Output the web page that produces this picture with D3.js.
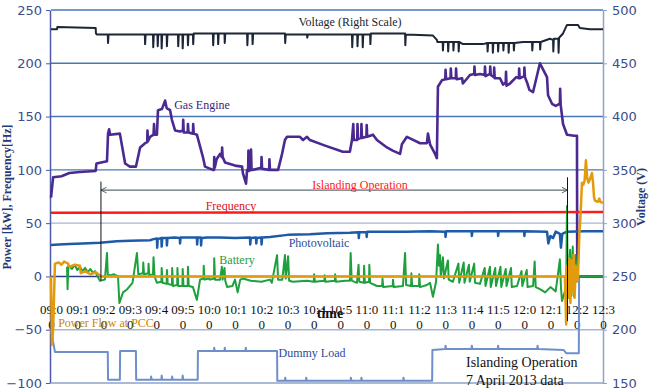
<!DOCTYPE html>
<html>
<head>
<meta charset="utf-8">
<script src="https://cdn.jsdelivr.net/npm/d3@7"></script>
<style>
  body { margin: 0; background: #fff; }
  svg { display: block; }
</style>
</head>
<body>
<script>
  // minutes after 09:00 -> value
  const timeTicks = [0,10,20,30,40,50,60,70,80,90,100,110,120,130,140,150,160,170,180,190,200,210];
  const timeLabels = ["09:00","09:10","09:20","09:30","09:40","09:50","10:00","10:10","10:20","10:30","10:40",
    "10:50","11:00","11:10","11:20","11:30","11:40","11:50","12:00","12:10","12:20","12:30"];
  const leftTicks = [-100,-50,0,50,100,150,200,250];
  const rightTicks = [150,200,250,300,350,400,450,500];
  const gridValues = [250,200,150,100,50,0,-50];

  const voltage = [[0,482],[2.3,482],[2.4,484],[17,483],[17.1,478],[17.5,477],[21.6,477],[21.7,469],[21.9,477],[35.7,477],[35.8,468],[36,477],
    [38.8,477],[38.9,465],[39.1,477],[40.5,477],[40.6,466],[40.8,477],[42,477],[42.1,464],[42.3,477],[44,477],[44.1,466],[44.3,477],
    [48.3,477],[48.4,466],[48.6,477],[50,477],[50.1,464],[50.3,477],[52,477],[52.1,467],[52.3,477],[54,477],[54.1,468],[54.3,478],
    [61.6,478],[61.7,467],[61.9,478],[63.5,478],[63.6,468],[63.8,478],[66,478],[66.1,469],[66.3,478],[74.6,478],[74.7,467],[74.9,478],
    [76.6,478],[76.7,468],[76.9,478],[89,478],[89.1,469],[89.3,477],[97.4,477],[97.5,474],[97.7,477],[114.5,477],[114.6,465],[114.8,477],
    [116.5,477],[116.6,466],[116.8,477],[118.5,477],[118.6,465],[118.8,477],[121.4,477],[121.5,468],[121.7,478],[134.7,478],[134.8,467],
    [135,477],[145.3,476],[146.8,472],[147,470],[149,470],[149.1,462],[149.3,470],[151,470],[151.1,461],[151.3,470],[153,470],[153.1,462],
    [153.3,470],[155,470],[155.1,461],[155.3,470],[156.7,468],[164.3,468],[166,469],[166.1,461],[166.3,469],[168,469],[168.1,460],[168.3,469],
    [170,469],[170.1,461],[170.3,469],[172,469],[172.1,462],[172.3,469],[174,469],[174.1,460],[174.3,469],[176,469],[176.1,462],[176.3,469],
    [179.6,470],[183,470],[183.1,462],[183.3,470],[186,470],[186.1,463],[186.3,470],[189.8,473],[191,472],[191.1,461],[191.3,473],
    [193,473],[193.1,460],[193.3,474],[194.8,478],[196.3,486],[200.5,486],[201.2,483],[205,482],[210,482]];

  const gasEngine = [[0,74],[0.8,93],[4,94],[7,97],[11,98],[17,99],[17.3,106],[21.3,108],[21.7,134],[22.1,138],[22.5,133],[26.2,134],
    [28.2,106],[30,103],[32.3,103],[33.9,121],[35.8,125],[36.6,126],[36.7,137],[36.9,127],[37.7,131],[39,133],[39.2,143],[39.4,133],
    [40.3,133],[40.7,156],[42.2,157],[43.4,165],[44,158],[45.3,156],[46,147],[47.2,137],[49.1,136],[50.2,137],[50.3,147],[50.5,135],
    [52,135],[52.1,143],[52.3,135],[54,134],[54.1,143],[54.3,134],[55.5,133],[57.8,112],[58.6,103],[61.6,100],[62,100],[62.1,112],
    [62.3,102],[63,110],[64.3,115],[65,112],[65.1,121],[65.3,112],[66.2,107],[70,104],[72.7,103],[73,97],[74.2,87],[74.6,100],[75,100],
    [75.1,118],[75.3,99],[76,100],[76.1,119],[76.3,100],[76.8,100],[80,102],[80.1,112],[80.3,101],[83,100],[83.1,110],[83.3,100],
    [86.4,100],[87.9,115],[89,128],[89.8,131],[94.7,131],[95.9,128],[97.4,131],[98.5,128],[104,123],[111,117],[113.7,117],[114.5,128],
    [115,143],[115.2,128],[116.5,128],[116.6,143],[116.8,129],[118,130],[118.1,143],[118.3,130],[120,131],[120.1,142],[120.3,131],
    [122.5,133],[124,128],[127.8,121],[130,118],[132.8,115],[133.5,124],[135.4,131],[137,129],[140.4,125],[143,125],[143.4,134],
    [144.2,124],[146.1,115],[146.8,111],[147.2,178],[148.7,184],[150,185],[150.1,194],[150.3,185],[152,186],[152.1,195],[152.3,186],
    [154,186],[154.1,195],[154.3,185],[156.4,186],[156.7,181],[159.4,189],[161,190],[161.1,197],[161.3,189],[163.2,190],[165,189],
    [165.1,197],[165.3,188],[167,190],[167.1,197],[167.3,189],[168.5,187],[168.6,196],[168.8,186],[170.8,186],[172,180],[173,182],
    [173.1,192],[173.3,179],[174.6,181],[177,187],[178,186],[178.1,195],[178.3,186],[180,188],[180.1,196],[180.3,187],[181.1,182],
    [182,175],[183.4,173],[186,200],[188.7,187],[189.1,170],[190.6,162],[192,160],[193.6,162],[193.7,176],[193.9,161],[194.8,143],
    [196.3,133],[199,132],[200.1,132],[200.2,0],[210,0]];

  const frequency = [[0,59.8],[150,60],[210,60.4]];

  const photovoltaic = [[0,29.5],[3,30],[7,30.5],[12,31],[18.6,31.5],[25,33],[30,33.5],[37.7,34],[39,35],[40.3,35.5],[40.4,27],[40.6,35],
    [42,36],[42.1,28],[42.3,36],[44,36],[44.1,29],[44.3,36],[47,36.5],[49,36],[49.1,31],[49.3,36.5],[55.5,36.5],[55.6,30],[55.8,36.5],
    [57,36.5],[57.1,29],[57.3,36],[59.3,36.5],[64.3,36.5],[70,36],[75.7,36.5],[75.8,30],[76,36],[78,36.5],[78.1,31],[78.3,36],[80,36.5],
    [80.1,30],[80.3,36.5],[83.3,37],[90,39],[98.5,39.5],[105,40.5],[113.7,41],[117,41.5],[117.1,36],[117.3,41.5],[120,41.5],[120.1,37],
    [120.3,42],[124,42],[135,42],[144.2,42.5],[150,42],[150.1,37],[150.3,42.5],[160,42.5],[160.1,38],[160.3,42.5],[170,42.5],[170.1,38],
    [170.3,42.5],[180,42.5],[180.1,38],[180.3,42.5],[188.7,42],[189.2,31],[190,38],[191,36],[192,42],[193.6,40],[194,27],[194.5,40],
    [196.3,42],[203,42.5],[210,42.5]];

  const battery = [[6.1,9],[6.3,-12],[6.6,10],[8,7],[9,11],[10,6],[11,9],[12,5],[13,8],[14,4],[15,7],[16,3],[16.7,5],[17.5,1],[18.6,-4],
    [20.5,-3],[21.3,22],[21.6,2],[22.4,1],[24,2],[25.5,0],[26,-25],[27.4,-15],[29,-12],[31,-6],[32.7,22],[33.2,2],[35,3],[35.1,13],
    [35.4,2],[37,3],[37.1,12],[37.4,1],[38.8,2],[39,18],[39.4,0],[40.3,-6],[42,-5],[42.1,8],[42.4,-6],[44,-7],[44.1,6],[44.4,-7],[46,-8],
    [46.1,8],[46.4,-9],[48,-8],[48.1,8],[48.4,-9],[50,-9],[50.1,7],[50.4,-9],[52,-9],[52.1,9],[52.4,-9],[54,-10],[55.5,-22],[56.7,-3],
    [58,-2],[58.1,10],[58.4,-3],[60,-2],[60.5,-3],[62,-2],[62.1,17],[62.4,-3],[64.3,-3],[65,9],[65.3,-3],[66,8],[66.3,-4],[67,-10],
    [69,-9],[70,-3],[71,-15],[72,-3],[73,-2],[76,-4],[80,-5],[83.3,-3],[84,-6],[86,20],[86.4,-3],[88,-3],[89,20],[89.3,-2],[90.2,19],
    [90.6,-4],[92,-5],[97.4,-4],[100,-5],[100.1,2],[100.4,-5],[104,-4],[104.1,1],[104.4,-5],[108,-4],[108.1,2],[108.4,-5],[112,-4],
    [113.7,-4],[114,22],[114.4,-4],[116.4,-6],[117,11],[117.3,-5],[119,-6],[119.1,10],[119.4,-6],[121,-5],[121.1,11],[121.4,-6],[124,-9],
    [126,-9],[126.1,-2],[126.4,-10],[130,-9],[130.1,-3],[130.4,-10],[133.9,-9],[134.7,22],[135.1,-8],[137,-9],[137.1,3],[137.4,-9],
    [140,-9],[140.1,2],[140.4,-10],[143,-8],[144.2,-6],[145.3,-19],[146.5,-5],[147.2,30],[147.6,10],[148,20],[148.3,0],[149.1,18],
    [149.5,-2],[151,15],[151.3,-3],[152.9,-5],[155,12],[155.3,-6],[157,13],[157.3,-6],[159,11],[159.3,-5],[161,12],[161.3,-6],[163.2,-7],
    [165,8],[165.3,-9],[167,9],[167.3,-10],[169,8],[169.3,-9],[171,9],[171.3,-10],[173,7],[173.3,-9],[175,8],[175.3,-10],[177.3,-9],
    [179,5],[179.3,-9],[181,6],[181.3,-10],[183.4,-9],[184,14],[184.4,-10],[186,-12],[188,-15],[190,-10],[192,-14],[193.6,16],[194,-10],
    [194.4,-23],[196,-10],[196.3,66],[196.6,-15],[197.5,25],[198,-18],[198.5,28],[199,-19],[199.5,20],[200.1,0],[210,0]];

  const powerFlowPCC = [[0,0],[0.4,-64],[0.8,-50],[1.5,12],[3,13],[4,11],[5,14],[6.5,12],[7,9],[9,11],[11,10],[11.3,3],[13,5],[15,2],
    [17,4],[18.6,1],[19,0],[195.5,0],[196,-45],[196.4,10],[196.8,-20],[197.2,17],[197.6,-25],[198,15],[198.4,-15],[198.8,20],
    [199.2,-20],[199.6,10],[200,-5],[200.5,0],[201,40],[201.5,60],[202,88],[202.5,86],[203,90],[203.5,109],[204,92],[204.5,88],
    [205,91],[205.8,97],[206.2,88],[206.6,74],[207,71],[208,70],[208.6,73],[209,70],[210,69]];

  const dummyLoad = [[0,-50],[1.5,-71],[21.6,-71],[21.7,-97],[26.2,-97],[26.3,-70],[32.3,-70],[32.4,-97],[38,-97],[38.1,-94],[38.3,-97],
    [42,-97],[42.1,-93],[42.3,-97],[46,-97],[46.1,-94],[46.3,-97],[50,-97],[50.1,-93],[50.3,-97],[55.8,-97],[55.9,-70],[62,-70],
    [62.1,-67],[62.3,-70],[66,-70],[66.1,-67],[66.3,-70],[74,-70],[74.1,-67],[74.3,-70],[86,-70],[86.1,-98],[89,-98],[89.1,-95],
    [89.3,-98],[97,-98],[97.1,-95],[97.3,-98],[114,-98],[114.1,-95],[114.3,-98],[118,-98],[118.1,-95],[118.3,-98],[134,-98],
    [134.1,-95],[134.3,-98],[145,-98],[145.1,-69],[150,-68],[150.1,-65],[150.3,-68],[160,-68],[160.1,-65],[160.3,-68],[170,-68],
    [170.1,-65],[170.3,-68],[185,-68],[185.1,-65],[185.3,-68],[195,-69],[196,-72],[200.8,-72],[200.9,0],[210,0]];

  const islanding = [19, 196.5];

  const W = 650, H = 392;
  const svg = d3.select('body').append('svg')
    .attr('width', W)
    .attr('height', H);

  const x = d3.scaleLinear().domain([0, 210]).range([51, 603]);
  const yL = d3.scaleLinear().domain([-100, 250]).range([383, 10]);
  const yR = d3.scaleLinear().domain([150, 500]).range([383, 10]);

  // gridlines
  svg.selectAll('.grid').data(gridValues).enter().append('line')
    .attr('x1', x(0)).attr('x2', x(210))
    .attr('y1', d => yL(d)).attr('y2', d => yL(d))
    .attr('stroke', d => (d === 50 || d === -50) ? '#a5b6d6' : (d === 0 ? '#2c3f8f' : '#4a77b4'))
    .attr('stroke-width', 1.4);

  // left axis
  const gL = svg.append('g').attr('transform', 'translate(50,0)')
    .call(d3.axisLeft(yL).tickValues(leftTicks).tickSize(4).tickSizeOuter(0).tickPadding(4));
  gL.select('.domain').attr('stroke', '#4b59a8').attr('stroke-width', 1.5);
  gL.selectAll('.tick line').attr('stroke', '#4b59a8');
  gL.selectAll('text').attr('font-family', 'DejaVu Sans').attr('font-size', 13).attr('fill', '#3c4d8a');

  // right axis
  const gR = svg.append('g').attr('transform', 'translate(603,0)')
    .call(d3.axisRight(yR).tickValues(rightTicks).tickSize(4).tickSizeOuter(0).tickPadding(5));
  gR.select('.domain').attr('stroke', '#8ea3c9').attr('stroke-width', 1.5);
  gR.selectAll('.tick line').attr('stroke', '#8ea3c9');
  gR.selectAll('text').attr('font-family', 'DejaVu Sans').attr('font-size', 13).attr('fill', '#3c4d8a');

  // bottom border
  svg.append('line').attr('x1', x(0)).attr('x2', x(210)).attr('y1', yL(-100)).attr('y2', yL(-100))
    .attr('stroke', '#8ea3c9').attr('stroke-width', 1.5);

  // time axis (labels wrap in two rows)
  const gX = svg.append('g').attr('transform', 'translate(0,300)')
    .call(d3.axisBottom(x).tickValues(timeTicks).tickSize(0).tickPadding(0)
      .tickFormat((d, i) => timeLabels[i]));
  gX.select('.domain').remove();
  gX.selectAll('text').each(function(d, i) {
    const lab = timeLabels[i];
    const t = d3.select(this).text(null).attr('dy', null).attr('y', 0)
      .attr('font-family', 'Liberation Serif').attr('font-size', 13).attr('fill', '#111');
    t.append('tspan').attr('x', 0).attr('y', 14).text(lab.slice(0, 4));
    t.append('tspan').attr('x', 0).attr('y', 28.5).text(lab.slice(4));
  });

  const line = d3.line().x(d => x(d[0])).y(d => yL(d[1]));
  const lineR = d3.line().x(d => x(d[0])).y(d => yR(d[1]));

  function draw(data, gen, color, w) {
    svg.append('path').datum(data)
      .attr('d', gen)
      .attr('fill', 'none')
      .attr('stroke', color)
      .attr('stroke-width', w)
      .attr('stroke-linejoin', 'round');
  }

  draw(dummyLoad, line, '#6f8fca', 2);
  draw(voltage, lineR, '#1c2636', 2);
  draw(gasEngine, line, '#4a2a91', 2.6);
  draw(frequency, line, '#ff1a1a', 2.5);
  draw(photovoltaic, line, '#1d5aa8', 2.5);
  draw(battery, line, '#1ea03c', 2);
  draw(powerFlowPCC, line, '#e39b0e', 2.5);

  // islanding arrow
  const defs = svg.append('defs');
  defs.append('marker').attr('id', 'chev').attr('viewBox', '0 0 10 10')
    .attr('refX', 9).attr('refY', 5).attr('markerWidth', 7).attr('markerHeight', 8)
    .attr('markerUnits', 'userSpaceOnUse').attr('orient', 'auto-start-reverse')
    .append('path').attr('d', 'M1,1 L9,5 L1,9').attr('fill', 'none').attr('stroke', '#37474f').attr('stroke-width', 1.2);

  svg.append('line')
    .attr('x1', x(islanding[0])).attr('x2', x(islanding[1]))
    .attr('y1', yL(81)).attr('y2', yL(81))
    .attr('stroke', '#37474f').attr('stroke-width', 1)
    .attr('marker-start', 'url(#chev)').attr('marker-end', 'url(#chev)');
  svg.append('line')
    .attr('x1', x(islanding[0])).attr('x2', x(islanding[0]))
    .attr('y1', yL(89)).attr('y2', yL(-4))
    .attr('stroke', '#111').attr('stroke-width', 1);
  svg.append('line')
    .attr('x1', x(islanding[1])).attr('x2', x(islanding[1]))
    .attr('y1', yL(93)).attr('y2', yL(-42))
    .attr('stroke', '#111').attr('stroke-width', 1);

  function label(txt, px, py, color, size, anchor, weight) {
    return svg.append('text')
      .attr('x', px).attr('y', py)
      .attr('font-family', 'Liberation Serif')
      .attr('font-size', size)
      .attr('font-weight', weight || 'normal')
      .attr('text-anchor', anchor || 'middle')
      .attr('fill', color)
      .text(txt);
  }

  label('Voltage (Right Scale)', 350, 26, '#1a1f33', 12);
  label('Gas Engine', 202, 109, '#3b2580', 12);
  label('Islanding Operation', 360, 189, '#ff1a1a', 12);
  label('Frequency', 231, 210, '#e0101a', 12);
  label('Photovoltaic', 319, 247, '#1f4e9c', 12);
  label('Battery', 237, 264, '#2a9a3a', 12);
  label('time', 330, 318, '#111', 14, 'middle', 'bold');
  label('Power Flow at PCC', 106, 327, '#c8860a', 12);
  label('Dummy Load', 312, 357, '#2d4a9a', 12);
  label('Islanding Operation', 466, 367, '#111', 14, 'start');
  label('7 April 2013  data', 466, 385, '#111', 14, 'start');

  svg.append('text')
    .attr('transform', 'translate(11,197) rotate(-90)')
    .attr('font-family', 'Liberation Serif').attr('font-size', 12).attr('font-weight', 'bold')
    .attr('text-anchor', 'middle').attr('fill', '#1f3a7a')
    .text('Power [kW], Frequency[Hz]');
  svg.append('text')
    .attr('transform', 'translate(645,197) rotate(-90)')
    .attr('font-family', 'Liberation Serif').attr('font-size', 12).attr('font-weight', 'bold')
    .attr('text-anchor', 'middle').attr('fill', '#1f3a7a')
    .text('Voltage (V)');
</script>
</body>
</html>
